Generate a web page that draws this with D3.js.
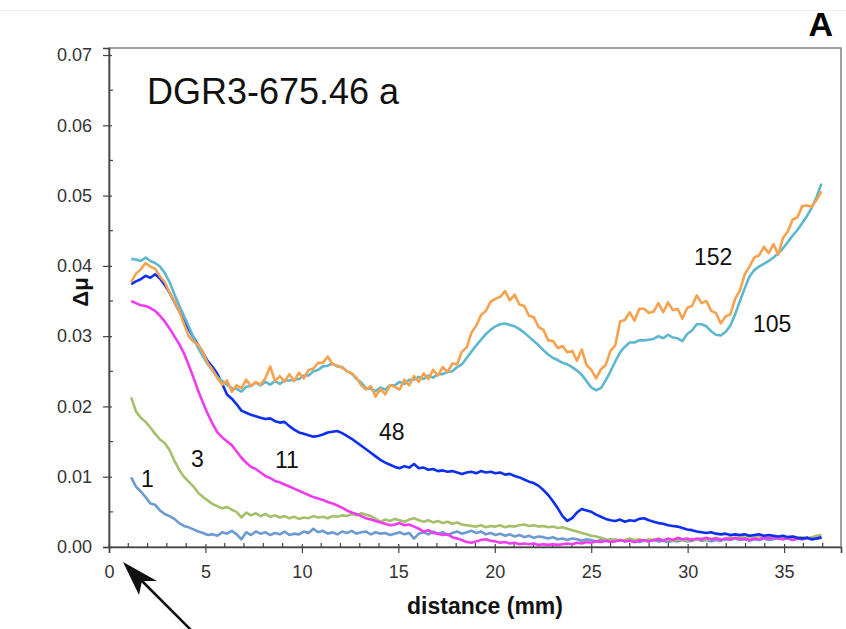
<!DOCTYPE html>
<html>
<head>
<meta charset="utf-8">
<script src="https://cdn.jsdelivr.net/npm/d3@7"></script>
<style>
  html, body { margin: 0; padding: 0; background: #fff; }
  svg { display: block; font-family: "Liberation Sans", Arial, Helvetica, sans-serif; }
</style>
</head>
<body>
<svg id="chart" width="846" height="629"></svg>
<script>
// Sampling positions along the core (mm), one every ~0.25 mm
const distance = d3.range(145).map(i => +(1.15 + i * 0.2485).toFixed(3));

// Δμ profiles, labelled by exposure number
const s1 = [
  0.0099,0.0086,0.0079,0.0071,0.0062,0.0060,0.0052,0.0047,0.0044,0.0040,
  0.0034,0.0030,0.0028,0.0025,0.0022,0.0020,0.0017,0.0018,0.0016,0.0021,
  0.0019,0.0023,0.0018,0.0011,0.0021,0.0017,0.0022,0.0019,0.0021,0.0017,
  0.0020,0.0018,0.0022,0.0017,0.0019,0.0018,0.0022,0.0020,0.0026,0.0021,
  0.0023,0.0019,0.0021,0.0018,0.0022,0.0020,0.0023,0.0019,0.0021,0.0022,
  0.0018,0.0021,0.0019,0.0020,0.0017,0.0019,0.0021,0.0018,0.0020,0.0012,
  0.0019,0.0021,0.0018,0.0022,0.0019,0.0021,0.0017,0.0020,0.0022,0.0019,
  0.0021,0.0023,0.0020,0.0022,0.0018,0.0020,0.0017,0.0019,0.0016,0.0018,
  0.0015,0.0017,0.0014,0.0016,0.0013,0.0015,0.0014,0.0012,0.0014,0.0011,
  0.0012,0.0010,0.0012,0.0011,0.0009,0.0011,0.0010,0.0008,0.0010,0.0009,
  0.0011,0.0009,0.0010,0.0008,0.0010,0.0009,0.0007,0.0009,0.0008,0.0010,
  0.0008,0.0009,0.0007,0.0009,0.0008,0.0010,0.0008,0.0009,0.0011,0.0009,
  0.0010,0.0008,0.0010,0.0009,0.0011,0.0010,0.0012,0.0010,0.0011,0.0009,
  0.0011,0.0010,0.0012,0.0010,0.0011,0.0013,0.0011,0.0012,0.0010,0.0012,
  0.0011,0.0013,0.0011,0.0012,0.0013
];
const s3 = [
  0.0213,0.0193,0.0184,0.0178,0.0170,0.0161,0.0153,0.0148,0.0138,0.0123,
  0.0110,0.0100,0.0093,0.0086,0.0077,0.0071,0.0066,0.0061,0.0058,0.0055,
  0.0057,0.0053,0.0050,0.0042,0.0049,0.0045,0.0048,0.0044,0.0047,0.0043,
  0.0045,0.0042,0.0044,0.0041,0.0043,0.0040,0.0042,0.0041,0.0044,0.0042,
  0.0043,0.0041,0.0044,0.0043,0.0045,0.0044,0.0047,0.0045,0.0048,0.0046,
  0.0044,0.0040,0.0036,0.0039,0.0037,0.0040,0.0038,0.0036,0.0039,0.0041,
  0.0038,0.0036,0.0038,0.0035,0.0037,0.0034,0.0036,0.0033,0.0035,0.0032,
  0.0031,0.0030,0.0029,0.0031,0.0028,0.0030,0.0029,0.0031,0.0028,0.0030,
  0.0029,0.0031,0.0032,0.0030,0.0031,0.0029,0.0030,0.0028,0.0029,0.0027,
  0.0028,0.0026,0.0024,0.0022,0.0020,0.0018,0.0016,0.0015,0.0013,0.0011,
  0.0010,0.0011,0.0009,0.0010,0.0012,0.0010,0.0011,0.0009,0.0011,0.0010,
  0.0012,0.0010,0.0011,0.0009,0.0010,0.0011,0.0009,0.0011,0.0010,0.0012,
  0.0010,0.0011,0.0013,0.0011,0.0012,0.0014,0.0012,0.0015,0.0013,0.0015,
  0.0014,0.0016,0.0013,0.0015,0.0014,0.0012,0.0014,0.0013,0.0015,0.0013,
  0.0014,0.0012,0.0014,0.0016,0.0017
];
const s11 = [
  0.0350,0.0347,0.0344,0.0343,0.0340,0.0336,0.0329,0.0321,0.0311,0.0300,
  0.0289,0.0276,0.0259,0.0241,0.0222,0.0205,0.0189,0.0175,0.0163,0.0156,
  0.0150,0.0145,0.0136,0.0127,0.0120,0.0114,0.0111,0.0106,0.0101,0.0098,
  0.0094,0.0092,0.0089,0.0086,0.0083,0.0080,0.0077,0.0074,0.0071,0.0069,
  0.0067,0.0064,0.0062,0.0059,0.0056,0.0052,0.0049,0.0047,0.0044,0.0041,
  0.0039,0.0037,0.0035,0.0033,0.0031,0.0032,0.0034,0.0031,0.0032,0.0029,
  0.0026,0.0022,0.0024,0.0020,0.0019,0.0017,0.0018,0.0014,0.0012,0.0010,
  0.0007,0.0006,0.0008,0.0010,0.0011,0.0009,0.0008,0.0006,0.0007,0.0005,
  0.0006,0.0004,0.0005,0.0004,0.0005,0.0003,0.0004,0.0003,0.0004,0.0003,
  0.0004,0.0005,0.0004,0.0006,0.0005,0.0007,0.0006,0.0008,0.0007,0.0009,
  0.0007,0.0008,0.0010,0.0008,0.0009,0.0007,0.0009,0.0010,0.0008,0.0010,
  0.0011,0.0009,0.0012,0.0010,0.0013,0.0011,0.0012,0.0010,0.0012,0.0011,
  0.0013,0.0011,0.0012,0.0010,0.0012,0.0011,0.0013,0.0011,0.0012,0.0010,
  0.0012,0.0011,0.0013,0.0012,0.0014,0.0012,0.0011,0.0013,0.0010,0.0012,
  0.0011,0.0013,0.0011,0.0012,0.0014
];
const s48 = [
  0.0374,0.0378,0.0381,0.0386,0.0383,0.0388,0.0382,0.0373,0.0362,0.0349,
  0.0336,0.0322,0.0310,0.0298,0.0287,0.0276,0.0264,0.0256,0.0246,0.0232,
  0.0217,0.0211,0.0203,0.0194,0.0191,0.0188,0.0186,0.0184,0.0182,0.0183,
  0.0179,0.0177,0.0178,0.0172,0.0167,0.0163,0.0161,0.0159,0.0157,0.0158,
  0.0160,0.0163,0.0164,0.0165,0.0162,0.0158,0.0154,0.0149,0.0144,0.0139,
  0.0134,0.0129,0.0124,0.0120,0.0117,0.0114,0.0112,0.0115,0.0113,0.0118,
  0.0112,0.0113,0.0110,0.0111,0.0108,0.0109,0.0107,0.0108,0.0106,0.0104,
  0.0106,0.0107,0.0105,0.0108,0.0106,0.0107,0.0105,0.0106,0.0103,0.0104,
  0.0101,0.0099,0.0096,0.0093,0.0091,0.0087,0.0081,0.0074,0.0065,0.0055,
  0.0044,0.0037,0.0041,0.0049,0.0054,0.0052,0.0050,0.0046,0.0043,0.0040,
  0.0038,0.0037,0.0039,0.0036,0.0038,0.0037,0.0040,0.0041,0.0038,0.0036,
  0.0034,0.0033,0.0031,0.0030,0.0029,0.0027,0.0025,0.0024,0.0022,0.0021,
  0.0020,0.0021,0.0019,0.0018,0.0019,0.0017,0.0018,0.0017,0.0018,0.0016,
  0.0017,0.0018,0.0016,0.0017,0.0016,0.0015,0.0016,0.0014,0.0015,0.0013,
  0.0012,0.0013,0.0011,0.0012,0.0014
];
const s105 = [
  0.0410,0.0409,0.0407,0.0412,0.0407,0.0404,0.0399,0.0390,0.0377,0.0360,
  0.0344,0.0329,0.0314,0.0298,0.0283,0.0271,0.0260,0.0251,0.0242,0.0236,
  0.0231,0.0226,0.0225,0.0221,0.0228,0.0229,0.0234,0.0230,0.0235,0.0231,
  0.0236,0.0232,0.0237,0.0237,0.0238,0.0239,0.0244,0.0244,0.0250,0.0252,
  0.0257,0.0258,0.0261,0.0257,0.0256,0.0250,0.0247,0.0239,0.0234,0.0226,
  0.0225,0.0222,0.0227,0.0224,0.0230,0.0230,0.0235,0.0232,0.0238,0.0238,
  0.0242,0.0239,0.0244,0.0241,0.0246,0.0246,0.0249,0.0250,0.0256,0.0260,
  0.0269,0.0278,0.0287,0.0295,0.0303,0.0309,0.0314,0.0317,0.0318,0.0316,
  0.0314,0.0310,0.0305,0.0299,0.0293,0.0287,0.0280,0.0274,0.0269,0.0266,
  0.0262,0.0260,0.0256,0.0251,0.0245,0.0236,0.0227,0.0223,0.0226,0.0237,
  0.0250,0.0264,0.0277,0.0285,0.0291,0.0291,0.0294,0.0294,0.0295,0.0296,
  0.0300,0.0297,0.0302,0.0298,0.0297,0.0293,0.0303,0.0308,0.0317,0.0317,
  0.0314,0.0307,0.0302,0.0301,0.0306,0.0315,0.0331,0.0350,0.0368,0.0385,
  0.0394,0.0399,0.0403,0.0407,0.0412,0.0418,0.0425,0.0434,0.0443,0.0451,
  0.0461,0.0471,0.0483,0.0498,0.0517
];
const s152 = [
  0.0377,0.0389,0.0395,0.0404,0.0399,0.0396,0.0385,0.0377,0.0362,0.0350,
  0.0336,0.0318,0.0300,0.0292,0.0288,0.0276,0.0261,0.0252,0.0240,0.0231,
  0.0237,0.0221,0.0230,0.0226,0.0238,0.0229,0.0235,0.0231,0.0240,0.0257,
  0.0236,0.0243,0.0235,0.0246,0.0236,0.0248,0.0240,0.0252,0.0254,0.0262,
  0.0262,0.0271,0.0260,0.0258,0.0255,0.0250,0.0247,0.0241,0.0230,0.0224,
  0.0229,0.0214,0.0225,0.0217,0.0230,0.0228,0.0224,0.0238,0.0230,0.0243,
  0.0235,0.0247,0.0239,0.0252,0.0244,0.0256,0.0249,0.0261,0.0260,0.0278,
  0.0284,0.0305,0.0315,0.0330,0.0336,0.0349,0.0353,0.0356,0.0364,0.0351,
  0.0359,0.0345,0.0343,0.0329,0.0327,0.0313,0.0309,0.0294,0.0293,0.0283,
  0.0286,0.0277,0.0279,0.0265,0.0281,0.0259,0.0252,0.0240,0.0253,0.0259,
  0.0279,0.0287,0.0321,0.0323,0.0334,0.0322,0.0339,0.0339,0.0333,0.0335,
  0.0347,0.0334,0.0348,0.0337,0.0339,0.0325,0.0340,0.0343,0.0358,0.0347,
  0.0350,0.0336,0.0333,0.0318,0.0328,0.0331,0.0353,0.0365,0.0388,0.0399,
  0.0412,0.0415,0.0427,0.0418,0.0431,0.0416,0.0440,0.0449,0.0466,0.0469,
  0.0485,0.0486,0.0484,0.0494,0.0506
];

const seriesNames = ["1", "3", "11", "48", "105", "152"];
const seriesValues = [s1, s3, s11, s48, s105, s152];
const seriesColors = ["#6b9bd0", "#a4c06a", "#f03cf0", "#0d2ff0", "#5cb8cf", "#f6a24f"];

const xTicks = [0, 5, 10, 15, 20, 25, 30, 35];
const yTicks = [0, 0.01, 0.02, 0.03, 0.04, 0.05, 0.06, 0.07];

const svg = d3.select("#chart");
const plotL = 109, plotR = 841, plotT = 48, plotB = 547;

const x = d3.scaleLinear().domain([0, 37.95]).range([plotL, plotR]);
const y = d3.scaleLinear().domain([0, 0.0710]).range([plotB, plotT]);

// faint rule across the top of the figure
svg.append("line").attr("x1", 0).attr("x2", 846).attr("y1", 10.5).attr("y2", 10.5)
  .attr("stroke", "#eeeeee").attr("stroke-width", 1);

// plot frame
svg.append("rect").attr("x", plotL).attr("y", plotT)
  .attr("width", plotR - plotL).attr("height", plotB - plotT)
  .attr("fill", "none").attr("stroke", "#8a8a8a").attr("stroke-width", 1.6);

// minor ticks (inside)
const minorX = d3.range(1, 38).filter(v => v % 5 !== 0);
svg.append("g").selectAll("line").data(minorX).join("line")
  .attr("x1", d => x(d)).attr("x2", d => x(d))
  .attr("y1", plotB).attr("y2", plotB - 4)
  .attr("stroke", "#444").attr("stroke-width", 1.2);
const minorY = d3.range(0.005, 0.07, 0.01);
svg.append("g").selectAll("line").data(minorY).join("line")
  .attr("x1", plotL).attr("x2", plotL + 4)
  .attr("y1", d => y(d)).attr("y2", d => y(d))
  .attr("stroke", "#444").attr("stroke-width", 1.2);

// axes
const xAxis = d3.axisBottom(x).tickValues(xTicks).tickFormat(d3.format("d")).tickSize(6).tickPadding(12);
const yAxis = d3.axisLeft(y).tickValues(yTicks).tickFormat(d3.format(".2f")).tickSize(6).tickPadding(11);

const gx = svg.append("g").attr("transform", `translate(0,${plotB})`).call(xAxis);
const gy = svg.append("g").attr("transform", `translate(${plotL},0)`).call(yAxis);
[gx, gy].forEach(g => {
  g.attr("font-size", null).attr("font-family", null);
  g.select(".domain").attr("stroke", "#444").attr("stroke-width", 1.6);
  g.selectAll(".tick line").attr("stroke", "#444").attr("stroke-width", 1.2);
  g.selectAll(".tick text").attr("fill", "#333")
    .style("font-size", "18px")
    .style("font-family", "'Liberation Sans', Arial, sans-serif");
});
gx.selectAll(".tick line").attr("y1", -3);
gy.selectAll(".tick line").attr("x1", 3);

// profiles
const line = d3.line().x((d, i) => x(distance[i])).y(d => y(d));
svg.append("g").selectAll("path").data(seriesValues).join("path")
  .attr("d", d => line(d))
  .attr("fill", "none")
  .attr("stroke", (d, i) => seriesColors[i])
  .attr("stroke-width", 2.6)
  .attr("stroke-linejoin", "round");

// series labels
const labelPos = [
  { name: "1", x: 141, y: 487 },
  { name: "3", x: 191, y: 467 },
  { name: "11", x: 275, y: 468 },
  { name: "48", x: 379, y: 440 },
  { name: "105", x: 753, y: 332 },
  { name: "152", x: 694, y: 265 }
];
svg.append("g").selectAll("text").data(labelPos).join("text")
  .attr("x", d => d.x).attr("y", d => d.y)
  .style("font-size", "23px").attr("fill", "#111")
  .text(d => d.name);

// title
svg.append("text").attr("x", 147).attr("y", 104)
  .style("font-size", "36px").attr("fill", "#111")
  .text("DGR3-675.46 a");

// panel letter
svg.append("text").attr("x", 833).attr("y", 36).attr("text-anchor", "end")
  .style("font-size", "34px").style("font-weight", "bold").attr("fill", "#000")
  .text("A");

// axis titles
svg.append("text").attr("x", 485).attr("y", 614)
  .attr("text-anchor", "middle")
  .style("font-size", "23px").style("font-weight", "bold").attr("fill", "#111")
  .text("distance (mm)");
svg.append("text").attr("transform", "translate(88,292) rotate(-90)")
  .attr("text-anchor", "middle")
  .style("font-size", "22px").style("font-weight", "bold").attr("fill", "#111")
  .text("Δμ");

// arrow pointing at the core top
const arrow = svg.append("g");
arrow.append("line").attr("x1", 139).attr("y1", 578).attr("x2", 196).attr("y2", 635)
  .attr("stroke", "#111").attr("stroke-width", 2.5);
arrow.append("path").attr("d", "M123,562 L157,581 L142,581 L139,595 Z").attr("fill", "#111");
</script>
</body>
</html>
